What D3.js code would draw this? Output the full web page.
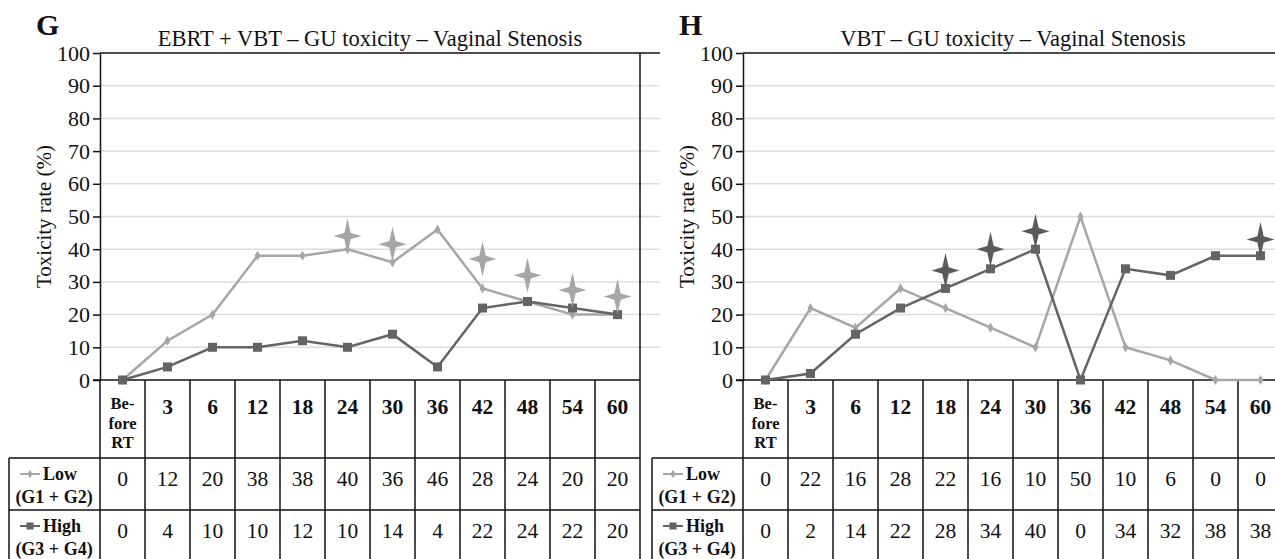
<html>
  <head>
    <title>Vaginal Stenosis toxicity</title>
    <script src="https://cdn.jsdelivr.net/npm/d3@7"></script>
    <style>
      body { margin: 0; background: #fff; }
      svg text { font-family: "Liberation Serif", "DejaVu Serif", serif; fill: #111; }
    </style>
  </head>
  <body>
    <div id="main"></div>
  <script>
    // data
    var categories = ["Before RT", "3", "6", "12", "18", "24", "30", "36", "42", "48", "54", "60"];
    var yTicks = [0, 10, 20, 30, 40, 50, 60, 70, 80, 90, 100];

    var lowG  = [0, 12, 20, 38, 38, 40, 36, 46, 28, 24, 20, 20];
    var highG = [0, 4, 10, 10, 12, 10, 14, 4, 22, 24, 22, 20];
    var lowH  = [0, 22, 16, 28, 22, 16, 10, 50, 10, 6, 0, 0];
    var highH = [0, 2, 14, 22, 28, 34, 40, 0, 34, 32, 38, 38];

    // significance stars (category, height in %)
    var starCatsG = ["24", "30", "42", "48", "54", "60"];
    var starValsG = [44, 41.5, 37, 32, 27.5, 25.5];
    var starCatsH = ["18", "24", "30", "60"];
    var starValsH = [33.5, 40, 45.5, 43];

    var svgWidth = 1275;
    var svgHeight = 559;
    var lowColor = "#a6a6a6";
    var highColor = "#646464";

    var svg = d3.select("#main")
          .append("svg")
          .attr("width", svgWidth)
          .attr("height", svgHeight);

    var plotW = 540, plotH = 327;
    var headerH = 78, rowH = 52, legendW = 91;

    function drawPanel(opt) {
      var g = svg.append("g").attr("transform", "translate(" + opt.left + ",53)");

      var x = d3.scaleBand().domain(categories).range([0, plotW]);
      var y = d3.scaleLinear().domain([0, 100]).range([plotH, 0]);
      var cx = function(c) { return x(c) + x.bandwidth() / 2; };

      // gridlines
      g.selectAll(".grid")
        .data(yTicks.filter(function(t) { return t > 0 && t < 100; }))
        .enter().append("line")
        .attr("x1", 0).attr("x2", plotW + 20)
        .attr("y1", y).attr("y2", y)
        .style("stroke", "#dcdcdc").style("stroke-width", 1.5);

      // top border
      g.append("line").attr("x1", 0).attr("x2", plotW + 20)
        .attr("y1", y(100)).attr("y2", y(100))
        .style("stroke", "#111").style("stroke-width", 1.5);

      // y axis
      var yAxis = d3.axisLeft(y).tickValues(yTicks).tickSize(7).tickSizeOuter(0).tickPadding(3);
      var ax = g.append("g").call(yAxis);
      ax.select(".domain").style("stroke", "#111").style("stroke-width", 1.5);
      ax.selectAll(".tick line").style("stroke", "#111").style("stroke-width", 1.5);
      ax.selectAll(".tick text").style("font-size", "22px").style("font-family", "Liberation Serif").style("fill", "#111");

      g.append("text")
        .attr("transform", "translate(" + (-49) + "," + (plotH / 2) + ") rotate(-90)")
        .attr("text-anchor", "middle")
        .style("font-size", "21px")
        .text("Toxicity rate (%)");

      // titles
      g.append("text")
        .attr("x", plotW / 2).attr("y", -7)
        .attr("text-anchor", "middle")
        .style("font-size", "22.5px")
        .text(opt.title);
      g.append("text")
        .attr("x", -64).attr("y", -18)
        .style("font-size", "30px").style("font-weight", "bold")
        .text(opt.letter);

      // table grid
      var tableBottom = plotH + headerH + rowH * 2;
      g.append("line").attr("x1", -7).attr("x2", plotW)
        .attr("y1", plotH).attr("y2", plotH)
        .style("stroke", "#111").style("stroke-width", 1.5);
      var colEdges = categories.map(function(c) { return x(c); }).concat([plotW]);
      g.selectAll(".col")
        .data(colEdges)
        .enter().append("line")
        .attr("x1", function(d) { return d; }).attr("x2", function(d) { return d; })
        .attr("y1", function(d, i) { return i === colEdges.length - 1 ? y(100) : plotH; })
        .attr("y2", tableBottom)
        .style("stroke", "#111").style("stroke-width", 1.5);
      [plotH + headerH, plotH + headerH + rowH].forEach(function(yy) {
        g.append("line").attr("x1", -legendW).attr("x2", plotW)
          .attr("y1", yy).attr("y2", yy)
          .style("stroke", "#111").style("stroke-width", 1.5);
      });
      g.append("line").attr("x1", -legendW).attr("x2", -legendW)
        .attr("y1", plotH + headerH).attr("y2", tableBottom)
        .style("stroke", "#111").style("stroke-width", 1.5);

      // header labels
      categories.forEach(function(c) {
        if (c === "Before RT") {
          ["Be-", "fore", "RT"].forEach(function(s, k) {
            g.append("text")
              .attr("x", cx(c)).attr("y", plotH + 29 + k * 19.5)
              .attr("text-anchor", "middle")
              .style("font-size", "16.5px").style("font-weight", "bold")
              .text(s);
          });
        } else {
          g.append("text")
            .attr("x", cx(c)).attr("y", plotH + 34)
            .attr("text-anchor", "middle")
            .style("font-size", "21.5px").style("font-weight", "bold")
            .text(c);
        }
      });

      // value rows
      [opt.low, opt.high].forEach(function(vals, r) {
        g.selectAll(".val" + r)
          .data(vals)
          .enter().append("text")
          .attr("x", function(d, i) { return cx(categories[i]); })
          .attr("y", plotH + headerH + r * rowH + 28)
          .attr("text-anchor", "middle")
          .style("font-size", "21.5px")
          .text(function(d) { return d; });
      });

      // legend cells
      var legends = [
        { name: "Low", sub: "(G1 + G2)", color: lowColor, shape: d3.symbolDiamond, size: 22 },
        { name: "High", sub: "(G3 + G4)", color: highColor, shape: d3.symbolSquare, size: 50 }
      ];
      legends.forEach(function(l, r) {
        var top = plotH + headerH + r * rowH;
        g.append("line").attr("x1", -80).attr("x2", -60)
          .attr("y1", top + 16).attr("y2", top + 16)
          .style("stroke", l.color).style("stroke-width", 2);
        g.append("path")
          .attr("d", d3.symbol().type(l.shape).size(l.size))
          .attr("transform", "translate(-70," + (top + 16) + ")")
          .style("fill", l.color);
        g.append("text").attr("x", -57).attr("y", top + 22)
          .style("font-size", "18px").style("font-weight", "bold").text(l.name);
        g.append("text").attr("x", -46).attr("y", top + 45)
          .attr("text-anchor", "middle")
          .style("font-size", "18px").style("font-weight", "bold").text(l.sub);
      });

      // series lines
      var line = d3.line()
        .x(function(d, i) { return cx(categories[i]); })
        .y(function(d) { return y(d); });

      g.append("path").datum(opt.low).attr("d", line)
        .style("fill", "none").style("stroke", lowColor).style("stroke-width", 2.5);
      g.selectAll(".lowPt").data(opt.low).enter().append("path")
        .attr("d", d3.symbol().type(d3.symbolDiamond).size(30))
        .attr("transform", function(d, i) { return "translate(" + cx(categories[i]) + "," + y(d) + ")"; })
        .style("fill", lowColor);

      g.append("path").datum(opt.high).attr("d", line)
        .style("fill", "none").style("stroke", highColor).style("stroke-width", 2.5);
      g.selectAll(".highPt").data(opt.high).enter().append("rect")
        .attr("x", function(d, i) { return cx(categories[i]) - 4.5; })
        .attr("y", function(d) { return y(d) - 4.5; })
        .attr("width", 9).attr("height", 9)
        .style("fill", highColor);

      // stars
      var star = "M0,-17.5 L3.2,-3.2 L14,0 L3.2,3.2 L0,17.5 L-3.2,3.2 L-14,0 L-3.2,-3.2 Z";
      g.selectAll(".star").data(opt.starVals).enter().append("path")
        .attr("d", star)
        .attr("transform", function(d, i) { return "translate(" + cx(opt.starCats[i]) + "," + y(d) + ")"; })
        .style("fill", opt.starColor);
    }

    drawPanel({ left: 100, title: "EBRT + VBT \u2013 GU toxicity \u2013 Vaginal Stenosis", letter: "G",
      low: lowG, high: highG, starCats: starCatsG, starVals: starValsG, starColor: lowColor });
    drawPanel({ left: 743, title: "VBT \u2013 GU toxicity \u2013 Vaginal Stenosis", letter: "H",
      low: lowH, high: highH, starCats: starCatsH, starVals: starValsH, starColor: "#5a5a5a" });
  </script>
  </body>
</html>
